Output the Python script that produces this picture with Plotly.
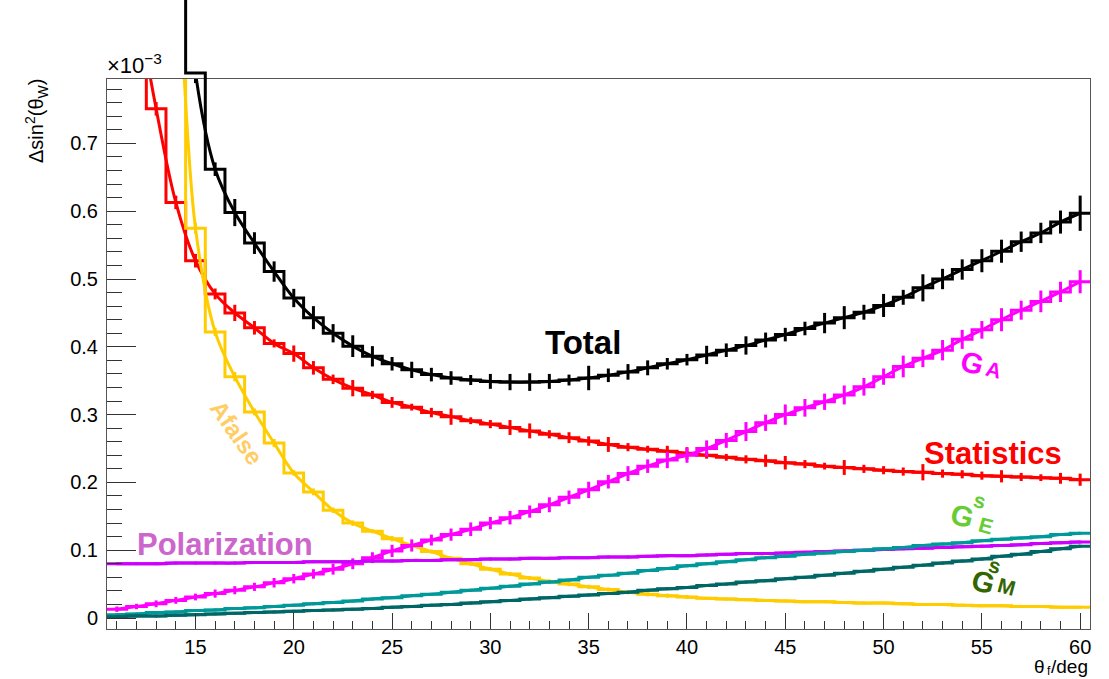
import plotly.graph_objects as go

# ---------------- data (values in units of 1e-3) ----------------
theta = list(range(11, 61))  # bin centres [deg], bin width 1

total = [2.0, 1.7, 1.4, 1.15, 0.804, 0.662, 0.598, 0.553, 0.511, 0.472,
         0.443, 0.420, 0.401, 0.386, 0.375, 0.366, 0.359, 0.354, 0.351, 0.349,
         0.348, 0.348, 0.349, 0.351, 0.354, 0.358, 0.363, 0.369, 0.375, 0.381,
         0.388, 0.395, 0.402, 0.410, 0.418, 0.427, 0.435, 0.443, 0.451, 0.461,
         0.473, 0.487, 0.500, 0.514, 0.527, 0.541, 0.555, 0.568, 0.584, 0.597]
err_total = [0.02, 0.02, 0.02, 0.02, 0.015, 0.010, 0.020, 0.016, 0.015, 0.0135,
             0.017, 0.0135, 0.016, 0.015, 0.010, 0.012, 0.010, 0.010, 0.0074, 0.011,
             0.012, 0.013, 0.011, 0.008, 0.018, 0.010, 0.0115, 0.011, 0.0085, 0.0085,
             0.0135, 0.010, 0.0135, 0.011, 0.010, 0.010, 0.015, 0.017, 0.011, 0.017,
             0.011, 0.020, 0.015, 0.015, 0.017, 0.017, 0.015, 0.015, 0.017, 0.026]

stats = [1.15, 0.92, 0.751, 0.613, 0.527, 0.478, 0.450, 0.428, 0.405, 0.390,
         0.369, 0.352, 0.339, 0.329, 0.318, 0.311, 0.303, 0.297, 0.291, 0.286,
         0.281, 0.276, 0.271, 0.266, 0.261, 0.256, 0.252, 0.249, 0.246, 0.243,
         0.240, 0.237, 0.234, 0.232, 0.229, 0.227, 0.224, 0.222, 0.220, 0.218,
         0.216, 0.215, 0.213, 0.212, 0.210, 0.209, 0.208, 0.207, 0.206, 0.204]
err_stats = [0.010, 0.010, 0.010, 0.010, 0.010, 0.008, 0.012, 0.010, 0.006, 0.012,
             0.010, 0.007, 0.012, 0.006, 0.008, 0.005, 0.007, 0.012, 0.005, 0.006,
             0.011, 0.011, 0.006, 0.008, 0.007, 0.011, 0.006, 0.005, 0.008, 0.009,
             0.005, 0.005, 0.006, 0.009, 0.010, 0.006, 0.005, 0.011, 0.006, 0.006,
             0.006, 0.012, 0.006, 0.006, 0.006, 0.009, 0.006, 0.005, 0.008, 0.009]

afalse = [1.9, 1.6, 1.3, 1.0, 0.575, 0.422, 0.356, 0.304, 0.258, 0.214,
          0.186, 0.159, 0.140, 0.128, 0.117, 0.107, 0.098, 0.088, 0.080, 0.072,
          0.065, 0.059, 0.054, 0.050, 0.046, 0.042, 0.038, 0.035, 0.033, 0.031,
          0.029, 0.028, 0.027, 0.026, 0.025, 0.024, 0.024, 0.023, 0.022, 0.022,
          0.021, 0.020, 0.020, 0.019, 0.018, 0.018, 0.017, 0.017, 0.016, 0.016]
err_afalse = [0.010, 0.010, 0.010, 0.010, 0.008, 0.006, 0.007, 0.005, 0.006, 0.004,
              0.005, 0.004, 0.004, 0.003, 0.004, 0.003, 0.003, 0.003, 0.003, 0.003,
              0.003, 0.003, 0.003, 0.003, 0.003, 0.003, 0.003, 0.003, 0.003, 0.003,
              0.002, 0.002, 0.002, 0.002, 0.002, 0.002, 0.002, 0.002, 0.002, 0.002,
              0.002, 0.002, 0.002, 0.002, 0.002, 0.002, 0.002, 0.002, 0.002, 0.002]

ga = [0.013, 0.017, 0.021, 0.026, 0.031, 0.036, 0.041, 0.046, 0.052, 0.058,
      0.065, 0.072, 0.080, 0.089, 0.099, 0.107, 0.115, 0.123, 0.131, 0.140,
      0.148, 0.157, 0.167, 0.178, 0.189, 0.201, 0.213, 0.224, 0.233, 0.240,
      0.250, 0.262, 0.275, 0.288, 0.300, 0.310, 0.319, 0.329, 0.341, 0.356,
      0.371, 0.383, 0.395, 0.411, 0.425, 0.440, 0.454, 0.467, 0.481, 0.496]
err_ga = [0.004, 0.004, 0.005, 0.005, 0.005, 0.006, 0.006, 0.006, 0.007, 0.007,
          0.007, 0.008, 0.008, 0.008, 0.009, 0.009, 0.008, 0.009, 0.010, 0.009,
          0.010, 0.009, 0.011, 0.010, 0.012, 0.010, 0.011, 0.010, 0.012, 0.011,
          0.012, 0.011, 0.014, 0.012, 0.015, 0.013, 0.012, 0.014, 0.013, 0.012,
          0.016, 0.013, 0.015, 0.014, 0.013, 0.017, 0.014, 0.016, 0.015, 0.017]

pol = [0.080, 0.080, 0.080, 0.081, 0.081, 0.081, 0.081, 0.082, 0.082, 0.082,
       0.083, 0.083, 0.083, 0.084, 0.084, 0.085, 0.085, 0.086, 0.086, 0.087,
       0.087, 0.088, 0.088, 0.089, 0.089, 0.090, 0.090, 0.091, 0.092, 0.092,
       0.093, 0.094, 0.095, 0.095, 0.096, 0.097, 0.098, 0.099, 0.100, 0.101,
       0.102, 0.103, 0.104, 0.105, 0.106, 0.107, 0.108, 0.110, 0.111, 0.112]

ge = [0.005, 0.006, 0.008, 0.009, 0.011, 0.012, 0.014, 0.015, 0.017, 0.019,
      0.021, 0.023, 0.025, 0.028, 0.030, 0.033, 0.035, 0.038, 0.041, 0.044,
      0.047, 0.050, 0.053, 0.056, 0.060, 0.063, 0.066, 0.070, 0.073, 0.077,
      0.080, 0.083, 0.086, 0.089, 0.091, 0.094, 0.096, 0.098, 0.100, 0.102,
      0.104, 0.107, 0.109, 0.111, 0.114, 0.116, 0.118, 0.120, 0.123, 0.125]

gm = [0.002, 0.003, 0.003, 0.004, 0.005, 0.006, 0.007, 0.008, 0.009, 0.010,
      0.011, 0.012, 0.013, 0.014, 0.016, 0.017, 0.019, 0.020, 0.022, 0.024,
      0.026, 0.028, 0.030, 0.032, 0.034, 0.036, 0.038, 0.041, 0.043, 0.045,
      0.048, 0.050, 0.053, 0.055, 0.058, 0.060, 0.063, 0.066, 0.069, 0.072,
      0.075, 0.078, 0.081, 0.084, 0.087, 0.091, 0.094, 0.098, 0.102, 0.106]

small_err = [0.002] * len(theta)

x_ticks = [15, 20, 25, 30, 35, 40, 45, 50, 55, 60]
y_ticks = [0, 0.1, 0.2, 0.3, 0.4, 0.5, 0.6, 0.7]
y_ticklabels = ["0", "0.1", "0.2", "0.3", "0.4", "0.5", "0.6", "0.7"]

# ---------------- layout constants ----------------
W, H = 1109, 679
ML, MR, MT, MB = 107, 19, 0, 50
Y_LO, Y_HI = -0.0162, 0.795          # frame range
FRAME_TOP_PX = 79                      # frame top in pixels
plot_h = H - MT - MB                   # 629
px_per_unit = (plot_h - FRAME_TOP_PX) / (Y_HI - Y_LO)
y2_hi = Y_LO + plot_h / px_per_unit    # extended axis up to the page top

FONT = "Liberation Sans, Arial, Helvetica, sans-serif"

fig = go.Figure()

edges = [c - 0.5 for c in theta] + [theta[-1] + 0.5]


def add_series(vals, errs, color, step_axis="y", width=3):
    ystep = list(vals) + [vals[-1]]
    fig.add_trace(go.Scatter(x=edges, y=ystep, mode="lines", yaxis=step_axis,
                             line=dict(color=color, width=width, shape="hv"),
                             hoverinfo="skip", showlegend=False))
    fig.add_trace(go.Scatter(x=theta, y=vals, mode="lines",
                             line=dict(color=color, width=width, shape="spline", smoothing=1.0),
                             hoverinfo="skip", showlegend=False))
    fig.add_trace(go.Scatter(x=theta, y=vals, mode="markers",
                             marker=dict(size=1, color=color),
                             error_y=dict(type="data", array=errs, color=color,
                                          thickness=3, width=0),
                             hoverinfo="skip", showlegend=False))


add_series(total, err_total, "#000000", step_axis="y2")
add_series(stats, err_stats, "#ff0000")
add_series(afalse, err_afalse, "#ffcc00")
add_series(ga, err_ga, "#ff00ff")
add_series(pol, small_err, "#cc00ff")
add_series(ge, small_err, "#009999")
add_series(gm, small_err, "#006666")

# ---------------- labels ----------------
ann = []


def txt(x, y, s, color, size, angle=0, bold=True):
    ann.append(dict(x=x, y=y, xref="x", yref="y", text=("<b>%s</b>" % s) if bold else s,
                    showarrow=False, textangle=angle, xanchor="center", yanchor="middle",
                    font=dict(family=FONT, size=size, color=color)))


txt(34.7, 0.406, "Total", "#000000", 33)
txt(55.55, 0.243, "Statistics", "#ff0000", 31)
txt(16.5, 0.108, "Polarization", "#cc66cc", 31)
txt(17.1, 0.274, "Afalse", "#ffcc66", 24, angle=55)
# G_A
txt(54.50, 0.376, "G", "#ff00ff", 29, angle=15)
txt(55.57, 0.366, "A", "#ff00ff", 21, angle=15)
# G_E^s
txt(53.99, 0.150, "G", "#66cc33", 29, angle=15)
txt(54.90, 0.173, "s", "#66cc33", 21, angle=15)
txt(55.21, 0.137, "E", "#66cc33", 21, angle=15)
# G_M^s
txt(55.06, 0.053, "G", "#336600", 29, angle=15)
txt(55.67, 0.077, "s", "#336600", 21, angle=15)
txt(56.28, 0.047, "M", "#336600", 21, angle=15)


def px_x(px):
    return (px - ML) / (W - ML - MR)


def px_y(py):
    return (plot_h - (py - MT)) / plot_h


def page_text(px, py, s, size, xanchor, yanchor="middle", angle=0):
    ann.append(dict(x=px_x(px), y=px_y(py), xref="paper", yref="paper",
                    xanchor=xanchor, yanchor=yanchor, showarrow=False,
                    textangle=angle, text=s, borderpad=0,
                    font=dict(family=FONT, size=size, color="#000000")))


# exponent label
page_text(106, 79, "×10<sup>−3</sup>", 22, "left", "bottom")
# y-axis title
page_text(36, 78, "Δsin<sup>2</sup>(θ<sub>W</sub>)", 20, "center", "top", angle=-90)
# x-axis title  θ_f/deg  (subscript drawn as its own small text)
page_text(1046, 667, "θ", 19, "right")
page_text(1046, 671, "f", 12, "left")
page_text(1050, 667, "/deg", 19, "left")

fig.update_layout(
    width=W, height=H,
    margin=dict(l=ML, r=MR, t=MT, b=MB, pad=0),
    paper_bgcolor="white", plot_bgcolor="rgba(0,0,0,0)",
    showlegend=False,
    font=dict(family=FONT, size=20, color="#000000"),
    annotations=ann,
    xaxis=dict(range=[10.5, 60.5], anchor="y", showgrid=False, zeroline=False,
               showline=True, linecolor="#555555", linewidth=1, mirror=True,
               ticks="inside", ticklen=16, tickwidth=1, tickcolor="#333333",
               tickvals=x_ticks, ticktext=[str(v) for v in x_ticks],
               ticklabelstandoff=0,
               tickfont=dict(family=FONT, size=20, color="#000000"),
               minor=dict(ticks="inside", ticklen=8, dtick=1, tick0=0,
                          tickwidth=1, tickcolor="#333333", showgrid=False)),
    yaxis=dict(range=[Y_LO, Y_HI], domain=[0, (plot_h - FRAME_TOP_PX) / plot_h],
               anchor="x", showgrid=False, zeroline=False,
               showline=True, linecolor="#555555", linewidth=1, mirror=True,
               ticks="inside", ticklen=29, tickwidth=1, tickcolor="#333333",
               tickvals=y_ticks, ticktext=y_ticklabels, ticklabelstandoff=4,
               tickfont=dict(family=FONT, size=20, color="#000000"),
               minor=dict(ticks="inside", ticklen=15, dtick=0.02, tick0=0,
                          tickwidth=1, tickcolor="#333333", showgrid=False)),
    yaxis2=dict(range=[Y_LO, y2_hi], domain=[0, 1], anchor="x", visible=False,
                showgrid=False, zeroline=False),
)

fig.write_html("out.html")
